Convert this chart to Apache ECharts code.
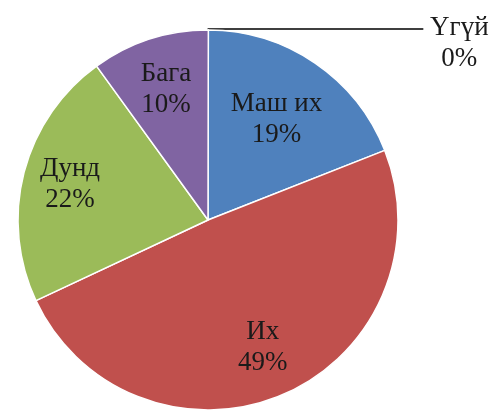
<!DOCTYPE html>
<html>
<head>
<meta charset="utf-8">
<script src="https://cdn.jsdelivr.net/npm/echarts@6/dist/echarts.min.js"></script>
<style>
  html, body { margin: 0; padding: 0; background: #fff; }
  #chart { width: 493px; height: 412px; }
</style>
</head>
<body>
<div id="chart"></div>
<script>
// ангилал ба хувь (Үгүй эхэнд: 0 утгатай, 12 цагийн байрлалд)
var categories = ['Үгүй', 'Маш их', 'Их', 'Дунд', 'Бага'];
var values = [0, 19, 49, 22, 10];

var colors = ['#4BACC6', '#4F81BD', '#C0504D', '#9BBB59', '#8064A2'];
// шошгын төвөөс зай (радиусын хувь)
var labelDist = [null, 0.64, 0.73, 0.75, 0.72];

var CX = 208, CY = 220, R = 190;

var chart = echarts.init(document.getElementById('chart'));

var data = categories.map(function (name, i) {
    var item = { name: name, value: values[i] };
    if (i === 0) {
        item.label = {
            position: 'outside',
            formatter: '{n|{b}}\n{n|{d}%}',
            padding: [28, 0, 0, 0],
            rich: { n: { width: 62, align: 'center', fontSize: 27, lineHeight: 31, fontFamily: 'Liberation Serif', color: '#1a1a1a' } }
        };
        item.labelLine = { show: true, length: 1, length2: 215, lineStyle: { color: '#000', width: 1.5 } };
    }
    return item;
});

var option = {
    animation: false,
    color: colors,
    series: [
        {
            type: 'pie',
            center: [CX, CY],
            radius: R,
            startAngle: 89.9,
            clockwise: true,
            avoidLabelOverlap: false,
            itemStyle: { borderColor: '#fff', borderWidth: 1.5 },
            label: {
                show: true,
                position: 'inner',
                formatter: '{b}\n{d}%',
                fontFamily: 'Liberation Serif',
                fontSize: 27,
                lineHeight: 31,
                color: '#1a1a1a'
            },
            labelLine: { show: false },
            labelLayout: function (p) {
                var k = labelDist[p.dataIndex];
                if (!k) return {};
                var lx = p.labelRect.x + p.labelRect.width / 2;
                var ly = p.labelRect.y + p.labelRect.height / 2;
                var dx = lx - CX, dy = ly - CY;
                var d = Math.sqrt(dx * dx + dy * dy) || 1;
                return { x: CX + dx / d * k * R, y: CY + dy / d * k * R, align: 'center', verticalAlign: 'middle' };
            },
            data: data
        }
    ]
};

chart.setOption(option);
</script>
</body>
</html>
